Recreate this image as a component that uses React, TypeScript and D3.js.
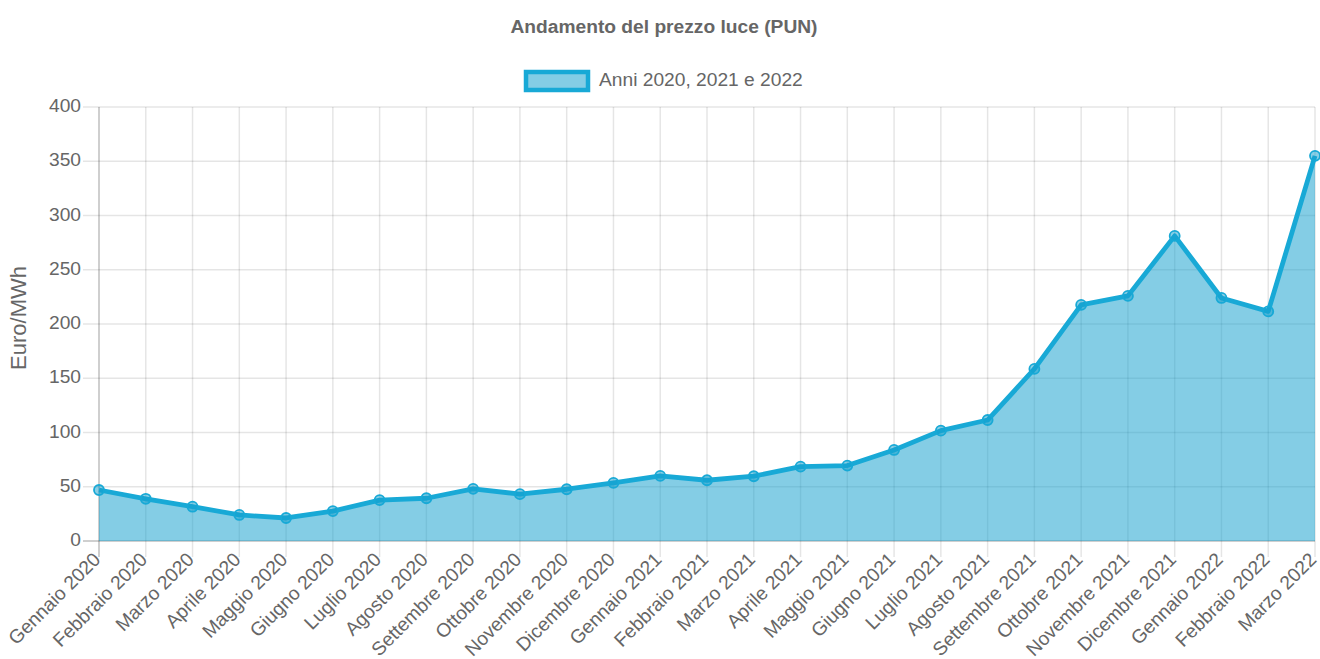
import React from "react";
import * as d3 from "d3";

const months: string[] = [
  "Gennaio 2020", "Febbraio 2020", "Marzo 2020", "Aprile 2020", "Maggio 2020", "Giugno 2020",
  "Luglio 2020", "Agosto 2020", "Settembre 2020", "Ottobre 2020", "Novembre 2020", "Dicembre 2020",
  "Gennaio 2021", "Febbraio 2021", "Marzo 2021", "Aprile 2021", "Maggio 2021", "Giugno 2021",
  "Luglio 2021", "Agosto 2021", "Settembre 2021", "Ottobre 2021", "Novembre 2021", "Dicembre 2021",
  "Gennaio 2022", "Febbraio 2022", "Marzo 2022",
];

const prices: number[] = [
  47.0, 38.9, 31.6, 24.0, 21.2, 27.6, 37.7, 39.4, 48.1, 43.2, 47.7, 53.5,
  60.0, 56.0, 59.7, 68.5, 69.5, 83.9, 101.7, 111.5, 158.6, 217.6, 225.9, 281.2,
  224.0, 211.6, 355.0,
];

const yTicks: number[] = [0, 50, 100, 150, 200, 250, 300, 350, 400];

const TITLE = "Andamento del prezzo luce (PUN)";
const LEGEND = "Anni 2020, 2021 e 2022";
const Y_LABEL = "Euro/MWh";

const W = 1320;
const H = 659;
const left = 99;
const right = 1315;
const top = 107;
const bottom = 541;
const FONT = "'Liberation Sans', Arial, Helvetica, sans-serif";
const TEXT = "#666";
const LINE = "#18a9d6";
const FILL = "rgba(20,160,205,0.52)";

export default function App() {
  const x = d3.scalePoint<string>().domain(months).range([left, right]);
  const y = d3.scaleLinear().domain([0, 400]).range([bottom, top]);

  const area = d3
    .area<number>()
    .x((_, i) => x(months[i]) as number)
    .y0(y(0))
    .y1((d) => y(d));
  const line = d3
    .line<number>()
    .x((_, i) => x(months[i]) as number)
    .y((d) => y(d));

  return (
    <svg
      width={W}
      height={H}
      style={{ position: "absolute", left: 0, top: 0, background: "#fff" }}
      fontFamily={FONT}
    >
      <text x={664} y={28} textAnchor="middle" dominantBaseline="middle" fontSize={19.2} fontWeight="bold" fill={TEXT}>
        {TITLE}
      </text>

      {/* legend */}
      <rect x={526} y={72} width={62} height={18} fill={FILL} stroke={LINE} strokeWidth={4.5} />
      <text x={599} y={81} dominantBaseline="middle" fontSize={19.2} fill={TEXT}>
        {LEGEND}
      </text>

      {/* horizontal grid + y ticks */}
      {yTicks.map((t) => (
        <g key={"y" + t}>
          <line
            x1={83}
            x2={right}
            y1={y(t)}
            y2={y(t)}
            stroke={t === 0 ? "rgba(0,0,0,0.25)" : "rgba(0,0,0,0.1)"}
            strokeWidth={1.5}
          />
          <text x={81} y={y(t)} textAnchor="end" dominantBaseline="middle" fontSize={19.2} fill={TEXT}>
            {t}
          </text>
        </g>
      ))}

      {/* vertical grid + x ticks */}
      {months.map((m, i) => (
        <g key={m}>
          <line
            x1={x(m)}
            x2={x(m)}
            y1={top}
            y2={557}
            stroke={i === 0 ? "rgba(0,0,0,0.25)" : "rgba(0,0,0,0.1)"}
            strokeWidth={1.5}
          />
          <text
            transform={`translate(${(x(m) as number) - 1},${557}) rotate(-45)`}
            textAnchor="end"
            dominantBaseline="middle"
            fontSize={19.2}
            fill={TEXT}
          >
            {m}
          </text>
        </g>
      ))}

      <text
        transform={`translate(20,${318}) rotate(-90)`}
        textAnchor="middle"
        dominantBaseline="middle"
        fontSize={22}
        fill={TEXT}
      >
        {Y_LABEL}
      </text>

      <path d={area(prices) || ""} fill={FILL} />
      <path d={line(prices) || ""} fill="none" stroke={LINE} strokeWidth={4.8} strokeLinejoin="round" />
      {prices.map((v, i) => (
        <circle key={i} cx={x(months[i])} cy={y(v)} r={5} fill="rgba(20,160,205,0.5)" stroke={LINE} strokeWidth={1.8} />
      ))}
    </svg>
  );
}
